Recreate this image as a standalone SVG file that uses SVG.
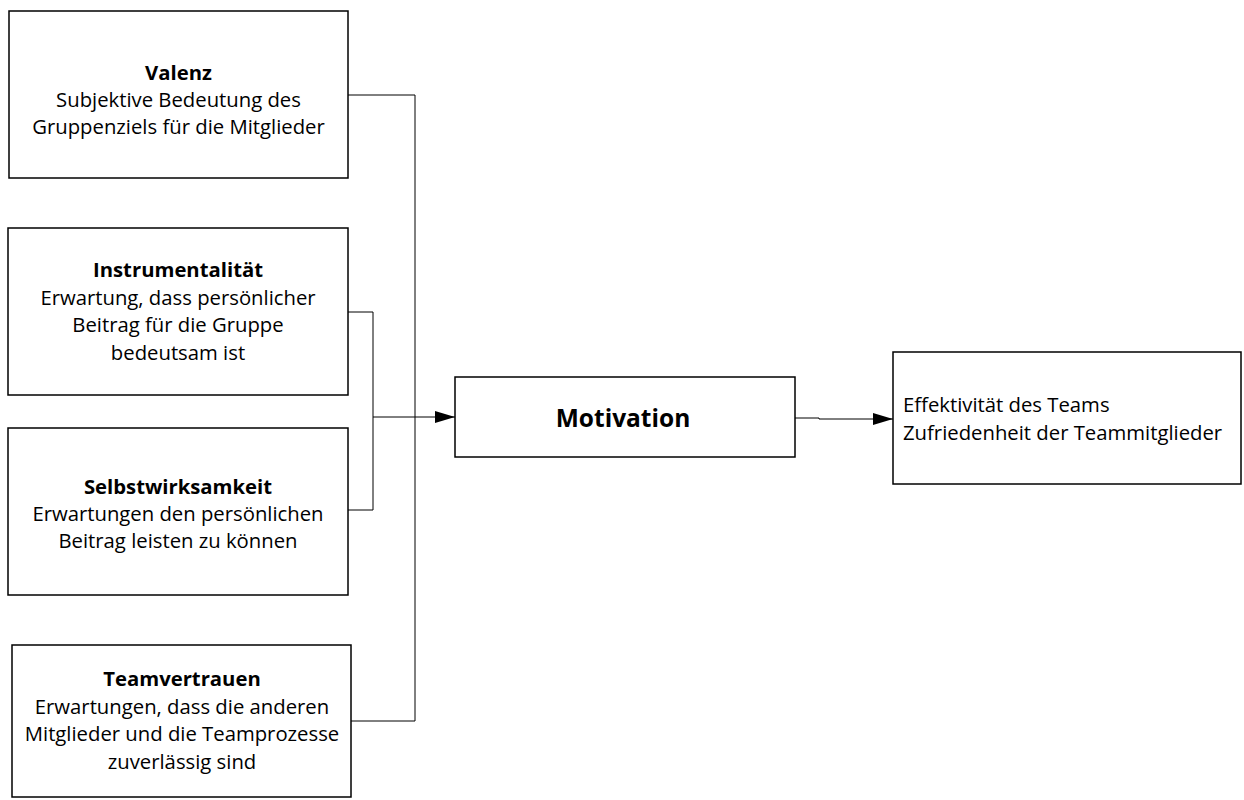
<svg xmlns="http://www.w3.org/2000/svg" width="1244" height="800" viewBox="0 0 1244 800">
  <defs>
    <style>
      .box { fill: #fff; stroke: #000; stroke-width: 1.5; }
      .t { font-family: "Open Sans", "Liberation Sans", sans-serif; font-size: 20.3px; fill: #000; text-anchor: middle; }
      .b { font-weight: bold; }
      .l { text-anchor: start; }
      .edge { fill: none; stroke: #000; stroke-width: 1; }
    </style>
    <marker id="arrow" viewBox="0 0 20 12" refX="20" refY="6" markerWidth="20" markerHeight="12" markerUnits="userSpaceOnUse" orient="auto">
      <path d="M0,0 L20,6 L0,12 Z" fill="#000"/>
    </marker>
  </defs>

  <rect width="1244" height="800" fill="#fff"/>

  <g id="connectors">
    <path class="edge" d="M348,95 H415 V721 H351"/>
    <path class="edge" d="M348,312 H373 V510 H348"/>
    <path class="edge" d="M373,417 H455" marker-end="url(#arrow)"/>
    <path class="edge" d="M795,418 H819 V419 H893" marker-end="url(#arrow)"/>
  </g>

  <g id="valenz">
    <rect class="box" x="9" y="11" width="339" height="167"/>
    <text class="t b" x="178.5" y="80">Valenz</text>
    <text class="t" x="178.5" y="107">Subjektive Bedeutung des</text>
    <text class="t" x="178.5" y="134">Gruppenziels für die Mitglieder</text>
  </g>

  <g id="instrumentalitaet">
    <rect class="box" x="8" y="228" width="340" height="167"/>
    <text class="t b" x="178" y="277">Instrumentalität</text>
    <text class="t" x="178" y="305">Erwartung, dass persönlicher</text>
    <text class="t" x="178" y="332">Beitrag für die Gruppe</text>
    <text class="t" x="178" y="360">bedeutsam ist</text>
  </g>

  <g id="selbstwirksamkeit">
    <rect class="box" x="8" y="428" width="340" height="167"/>
    <text class="t b" x="178" y="494">Selbstwirksamkeit</text>
    <text class="t" x="178" y="521">Erwartungen den persönlichen</text>
    <text class="t" x="178" y="548">Beitrag leisten zu können</text>
  </g>

  <g id="teamvertrauen">
    <rect class="box" x="12" y="645" width="339" height="152"/>
    <text class="t b" x="182" y="686">Teamvertrauen</text>
    <text class="t" x="182" y="714">Erwartungen, dass die anderen</text>
    <text class="t" x="182" y="741">Mitglieder und die Teamprozesse</text>
    <text class="t" x="182" y="769">zuverlässig sind</text>
  </g>

  <g id="motivation">
    <rect class="box" x="455" y="377" width="340" height="80"/>
    <text class="t b" x="623" y="427" style="font-size:24.5px">Motivation</text>
  </g>

  <g id="ergebnis">
    <rect class="box" x="893" y="352" width="348" height="132"/>
    <text class="t l" x="903" y="412">Effektivität des Teams</text>
    <text class="t l" x="903" y="440">Zufriedenheit der Teammitglieder</text>
  </g>
</svg>
